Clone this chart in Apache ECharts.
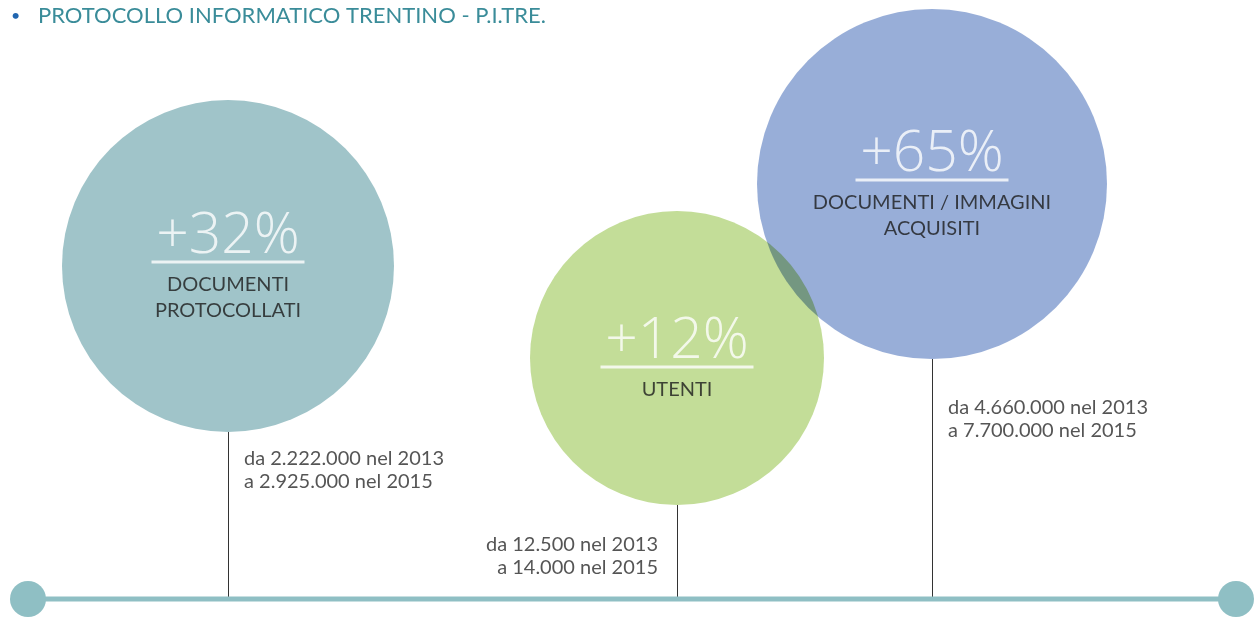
<!DOCTYPE html>
<html><head><meta charset="utf-8">
<script src="https://cdn.jsdelivr.net/npm/echarts@6/dist/echarts.min.js"></script>
<style>html,body{margin:0;padding:0;background:#fff}#c{width:1255px;height:617px}</style>
</head><body><div id="c"></div>
<script>
// ---- data ----
const title = 'PROTOCOLLO INFORMATICO TRENTINO - P.I.TRE.';
const categories = ['DOCUMENTI\nPROTOCOLLATI', 'UTENTI', 'DOCUMENTI / IMMAGINI\nACQUISITI'];
const growth = [32, 12, 65];
const from2013 = ['2.222.000', '12.500', '4.660.000'];
const to2015 = ['2.925.000', '14.000', '7.700.000'];
const yearFrom = 2013, yearTo = 2015;

// ---- layout (positions / sizes / styles) ----
const centerX = [228, 677, 932];
const centerY = [266, 358, 184];
const radius = [166, 147, 175];
const colors = ['#A0C4C9', '#C3DD98', '#98AED8'];
const baseY = 599;
const timeline = [28, 1236];
const annoY = [470, 556, 419];
const annoSide = ['right', 'left', 'right'];

const FONT = 'Lato';

const circles = growth.map((g, i) => ({ value: [centerX[i], centerY[i]], symbolSize: radius[i] * 2, itemStyle: { color: colors[i], opacity: 1 } }));

const textItems = growth.map((g, i) => {
  const cat = categories[i].split('\n').map(s => '{cat|' + s + '}').join('\n');
  return { value: [centerX[i], centerY[i]], label: { formatter: '{pct|+' + g + '%}\n{ul|}\n' + cat } };
});

const annoItems = growth.map((g, i) => ({
  value: [centerX[i], annoY[i]],
  label: {
    position: annoSide[i],
    distance: annoSide[i] === 'right' ? 16 : 19,
    align: annoSide[i] === 'right' ? 'left' : 'right',
    formatter: 'da ' + from2013[i] + ' nel ' + yearFrom + '\na ' + to2015[i] + ' nel ' + yearTo
  }
}));

const stemData = growth.map((g, i) => [centerX[i], centerY[i] + radius[i], baseY]);

const chart = echarts.init(document.getElementById('c'), null, { renderer: 'canvas' });
chart.setOption({
  animation: false,
  backgroundColor: '#fff',
  title: {
    text: '{b|•}{t|' + title + '}',
    left: 6, top: 0,
    textStyle: {
      fontWeight: 'normal',
      rich: {
        b: { color: '#2166B0', fontSize: 16, width: 27, fontFamily: FONT, fontWeight: 'normal' },
        t: { color: '#3A8C99', fontSize: 22, fontFamily: FONT, fontWeight: 'normal' }
      }
    }
  },
  grid: { left: 0, right: 0, top: 0, bottom: 0 },
  xAxis: { type: 'value', min: 0, max: 1255, show: false },
  yAxis: { type: 'value', min: 0, max: 617, inverse: true, show: false },
  series: [
    {
      type: 'custom',
      renderItem: function (params, api) {
        const a = api.coord([api.value(0), api.value(1)]);
        const b = api.coord([api.value(0), api.value(2)]);
        return { type: 'line', shape: { x1: Math.round(a[0]) + 0.5, y1: a[1], x2: Math.round(a[0]) + 0.5, y2: b[1] }, style: { stroke: '#333', lineWidth: 1 } };
      },
      data: stemData, z: 1, silent: true
    },
    {
      type: 'line',
      data: timeline.map(x => [x, baseY]),
      symbol: 'circle', symbolSize: 36, showSymbol: true,
      itemStyle: { color: '#8FBFC4', opacity: 1 },
      lineStyle: { color: '#8FBFC4', width: 5 },
      z: 2, silent: true
    },
    {
      type: 'scatter', data: circles.slice(0, 2), symbol: 'circle', z: 3, silent: true
    },
    {
      type: 'scatter', data: circles.slice(2), symbol: 'circle', z: 4, silent: true, blendMode: 'multiply'
    },
    {
      type: 'scatter', data: textItems, symbolSize: 0, z: 5, silent: true,
      label: {
        show: true, position: 'inside', align: 'center', verticalAlign: 'middle', offset: [0, 7],
        rich: {
          pct: { fontFamily: 'Open Sans', fontWeight: 300, fontSize: 57, color: '#fff', lineHeight: 30, align: 'center' },
          ul: { width: 153, height: 3, backgroundColor: '#fff', lineHeight: 20, align: 'center' },
          cat: { fontFamily: FONT, fontSize: 20, color: '#1c1c1c', lineHeight: 26, align: 'center' }
        }
      }
    },
    {
      type: 'scatter', data: annoItems, symbolSize: 0, z: 5, silent: true,
      label: { show: true, fontFamily: FONT, fontSize: 20, color: '#2a2a2a', lineHeight: 23 }
    }
  ]
});
</script></body></html>
